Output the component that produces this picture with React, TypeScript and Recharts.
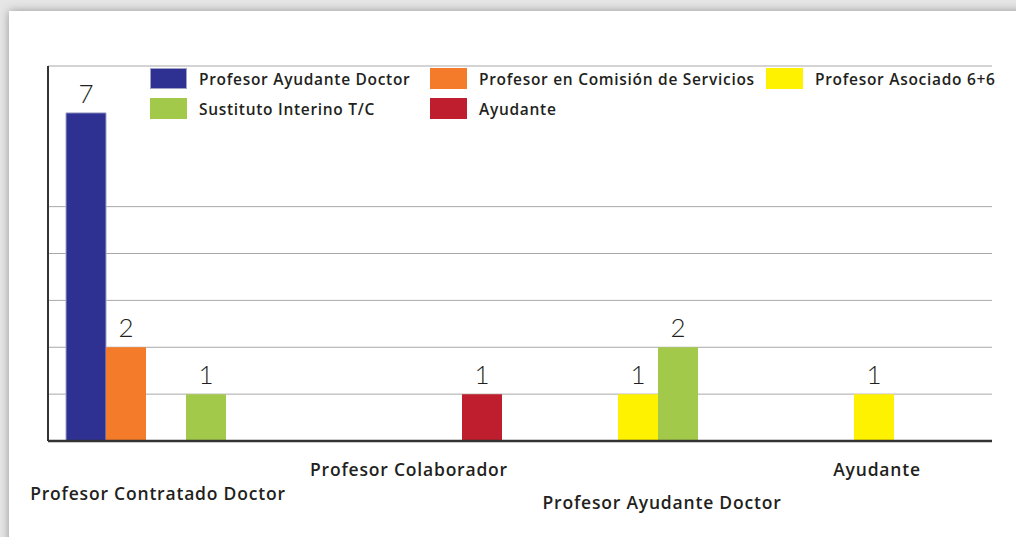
import { BarChart, Bar, XAxis, YAxis, CartesianGrid, Legend, LabelList } from 'recharts'

const CATEGORIES = ['Profesor Contratado Doctor', 'Profesor Colaborador', 'Profesor Ayudante Doctor', 'Ayudante']

const AYUDANTE_DOCTOR = [7, null, null, null]
const COMISION_SERVICIOS = [2, null, null, null]
const ASOCIADO_6_6 = [null, null, 1, 1]
const SUSTITUTO_INTERINO = [1, null, 2, null]
const AYUDANTE = [null, 1, null, null]

const Y_TICKS = [0, 1, 2, 3, 4, 5]

// legend reading order (row by row)
const LEGEND_ORDER = [
  'Profesor Ayudante Doctor',
  'Profesor en Comisión de Servicios',
  'Profesor Asociado 6+6',
  'Sustituto Interino T/C',
  'Ayudante',
]

const data = CATEGORIES.map((name, i) => ({
  name,
  ayudanteDoctor: AYUDANTE_DOCTOR[i],
  comision: COMISION_SERVICIOS[i],
  asociado: ASOCIADO_6_6[i],
  sustituto: SUSTITUTO_INTERINO[i],
  ayudante: AYUDANTE[i],
}))

const FONT = '"Open Sans", Lato, sans-serif'
const TEXT = '#231f20'

// staggered category labels: [dx, baseline y]
const TICK_POS = [
  [-8, 500],
  [7, 476],
  [24, 509],
  [3, 476],
]

function CategoryTick(props: any) {
  const { x, payload, index } = props
  const [dx, y] = TICK_POS[index] || [0, 476]
  return (
    <text
      x={x + dx}
      y={y}
      textAnchor="middle"
      fontFamily={FONT}
      fontSize={17.5}
      fontWeight={600}
      letterSpacing={0.8}
      fill={TEXT}
    >
      {payload.value}
    </text>
  )
}

function EmptyTick() {
  return null
}

function LegendContent(props: any) {
  const items = [...(props.payload || [])].sort(
    (a: any, b: any) => LEGEND_ORDER.indexOf(a.value) - LEGEND_ORDER.indexOf(b.value)
  )
  return (
    <div
      style={{
        display: 'grid',
        gridTemplateColumns: '280px 336px 250px',
        rowGap: 9,
        fontFamily: FONT,
        fontSize: 15.5,
        fontWeight: 600,
        letterSpacing: 0.7,
        color: TEXT,
        whiteSpace: 'nowrap',
      }}
    >
      {items.map((item: any) => (
        <div key={item.value} style={{ display: 'flex', alignItems: 'center', height: 21 }}>
          <span
            style={{
              display: 'inline-block',
              width: 37,
              height: 21,
              boxSizing: 'border-box',
              background: item.color,
              border: item.color === '#2e3192' ? '1px solid #a0a2c8' : 'none',
              marginRight: 12,
              flexShrink: 0,
            }}
          />
          <span>{item.value}</span>
        </div>
      ))}
    </div>
  )
}

const labelStyle = { fontFamily: 'Lato, sans-serif', fontSize: 26, fontWeight: 300, fill: TEXT }

export default function App() {
  return (
    <div style={{ position: 'absolute', left: 0, top: 0, width: 1016, height: 537, overflow: 'hidden', background: '#e6e6e6' }}>
      <div
        style={{
          position: 'absolute',
          left: 9,
          top: 11,
          width: 1100,
          height: 600,
          background: '#fff',
          boxShadow: '0 0 9px rgba(0,0,0,0.35)',
        }}
      />
      <div style={{ position: 'absolute', left: 0, top: 0 }}>
        <BarChart
          width={1016}
          height={537}
          data={data}
          margin={{ top: 66, right: 24, bottom: 0, left: 0 }}
          barGap={0}
          barSize={40}
        >
          <CartesianGrid vertical={false} stroke="#a8a8a8" strokeWidth={1} />
          <YAxis
            type="number"
            domain={[0, 8]}
            ticks={Y_TICKS}
            width={48}
            tick={<EmptyTick />}
            tickLine={false}
            axisLine={{ stroke: '#333', strokeWidth: 2 }}
          />
          <XAxis
            dataKey="name"
            height={96}
            tickLine={false}
            interval={0}
            axisLine={{ stroke: '#333', strokeWidth: 2.5 }}
            tick={<CategoryTick />}
          />
          <Legend
            layout="horizontal"
            verticalAlign="middle"
            align="center"
            content={<LegendContent />}
            wrapperStyle={{ position: 'absolute', top: 68, left: 150, width: 860, height: 60 }}
          />
          <Bar dataKey="ayudanteDoctor" name="Profesor Ayudante Doctor" fill="#2e3192" stroke="#a0a2c8" strokeWidth={1} isAnimationActive={false}>
            <LabelList dataKey="ayudanteDoctor" position="top" offset={10} style={labelStyle} />
          </Bar>
          <Bar dataKey="comision" name="Profesor en Comisión de Servicios" fill="#f47b2a" isAnimationActive={false}>
            <LabelList dataKey="comision" position="top" offset={10} style={labelStyle} />
          </Bar>
          <Bar dataKey="asociado" name="Profesor Asociado 6+6" fill="#fff200" isAnimationActive={false}>
            <LabelList dataKey="asociado" position="top" offset={10} style={labelStyle} />
          </Bar>
          <Bar dataKey="sustituto" name="Sustituto Interino T/C" fill="#a3c94a" isAnimationActive={false}>
            <LabelList dataKey="sustituto" position="top" offset={10} style={labelStyle} />
          </Bar>
          <Bar dataKey="ayudante" name="Ayudante" fill="#be1e2d" isAnimationActive={false}>
            <LabelList dataKey="ayudante" position="top" offset={10} style={labelStyle} />
          </Bar>
        </BarChart>
      </div>
    </div>
  )
}
